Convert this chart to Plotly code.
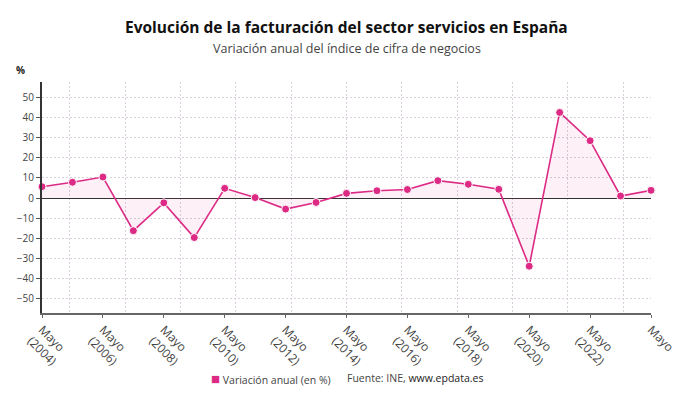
import plotly.graph_objects as go

years = list(range(2004, 2025))
values = [5.6, 7.8, 10.4, -16.2, -2.4, -19.6, 4.8, 0.2, -5.5, -2.2, 2.3, 3.6, 4.2,
          8.6, 6.8, 4.3, -33.8, 42.4, 28.4, 1.0, 3.8]
tick_years = list(range(2004, 2025, 2))
tick_labels = ["Mayo<br>(%d)" % y for y in tick_years[:-1]] + ["Mayo"]
series_name = "Variación anual (en %)"

LINE = "#dc2a85"
FONT = "Open Sans"
W, H = 690, 405
ML, MR, MT, MB = 42, 39, 82, 92
PW, PH = W - ML - MR, H - MT - MB


def px_x(x):
    return (x - ML) / PW


def px_y(y):
    return (H - MB - y) / PH


fig = go.Figure()
fig.add_trace(go.Scatter(
    x=years, y=values, mode="lines+markers", fill="tozeroy",
    fillcolor="rgba(231,41,138,0.07)", name=series_name,
    line=dict(color=LINE, width=1.6),
    marker=dict(color=LINE, size=8, line=dict(color="white", width=1)),
    showlegend=False, cliponaxis=False,
))
# grid helper trace on secondary axis
nb = 11
grid_pos = [2004 + (k + 0.5) * 20 / nb for k in range(nb)]
fig.add_trace(go.Scatter(x=[2004, 2024], y=[None, None], xaxis="x2",
                         showlegend=False, hoverinfo="skip"))

GRID = "#d9d0dc"
fig.update_layout(
    width=W, height=H,
    margin=dict(l=ML, r=MR, t=MT, b=MB),
    paper_bgcolor="white", plot_bgcolor="white",
    font=dict(family=FONT, color="#444", size=11),
    showlegend=False,
    xaxis=dict(
        range=[2004, 2024], tickvals=tick_years, ticktext=tick_labels,
        tickangle=45, showgrid=False, zeroline=False,
        showline=True, linecolor="#666", linewidth=2,
        ticks="outside", ticklen=3, tickcolor="#666",
        tickfont=dict(size=12, color="#444"),
    ),
    xaxis2=dict(
        range=[2004, 2024], overlaying="x", tickvals=grid_pos,
        showticklabels=False, showgrid=True, gridcolor=GRID,
        griddash="2px,2px", gridwidth=1, zeroline=False, showline=False, ticks="",
    ),
    yaxis=dict(
        range=[-57, 57.5], tickvals=list(range(-50, 51, 10)),
        showgrid=True, gridcolor=GRID, griddash="2px,2px", gridwidth=1,
        zeroline=True, zerolinecolor="#333", zerolinewidth=1.2,
        showline=True, linecolor="#333", linewidth=2,
        ticks="outside", ticklen=4, tickcolor="#555",
        tickfont=dict(size=10, color="#444"),
    ),
    annotations=[
        dict(text="<b>Evolución de la facturación del sector servicios en España</b>",
             xref="paper", yref="paper", x=0.5, y=px_y(27), xanchor="center",
             yanchor="middle", showarrow=False, font=dict(size=15.5, color="#111")),
        dict(text="Variación anual del índice de cifra de negocios",
             xref="paper", yref="paper", x=0.5, y=px_y(48), xanchor="center",
             yanchor="middle", showarrow=False, font=dict(size=12.5, color="#444")),
        dict(text="<b>%</b>", xref="paper", yref="paper", x=px_x(20), y=px_y(70),
             xanchor="center", yanchor="middle", showarrow=False,
             font=dict(size=10, color="#222")),
        dict(text="<span style='color:%s;font-size:15px'>■</span> %s" % (LINE, series_name),
             xref="paper", yref="paper", x=px_x(209), y=px_y(378), xanchor="left",
             yanchor="middle", showarrow=False, font=dict(size=10.5, color="#444")),
        dict(text="Fuente: INE, <span style='color:#222'>www.epdata.es</span>",
             xref="paper", yref="paper", x=px_x(345), y=px_y(378), xanchor="left",
             yanchor="middle", showarrow=False, font=dict(size=10.5, color="#444")),
    ],
)
fig.write_html("out.html")
